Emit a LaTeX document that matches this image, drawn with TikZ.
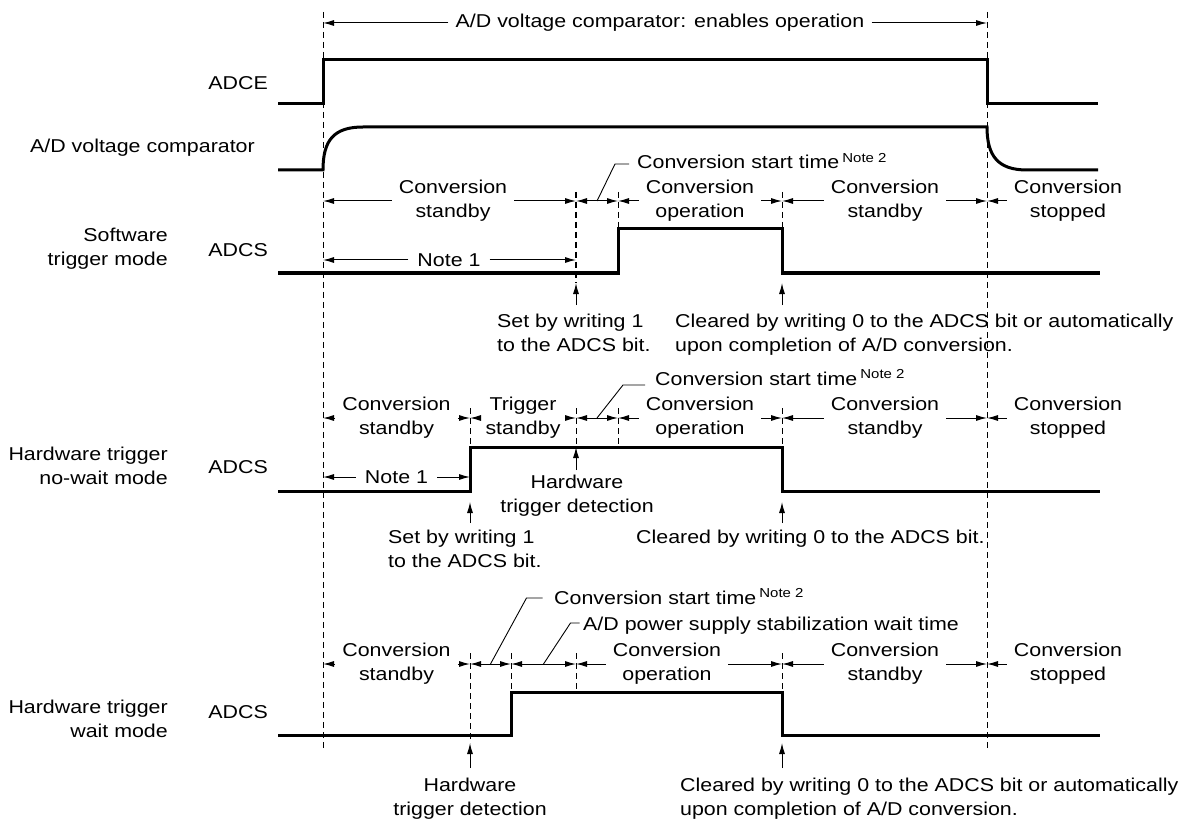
\documentclass[tikz,border=0pt]{standalone}
\usepackage{fontspec}
\setmainfont[FakeStretch=1.15]{Liberation Sans}
\usepackage{tikz}
\usetikzlibrary{positioning,arrows.meta,calc}
\definecolor{ink}{HTML}{000000}
\tikzset{
  wave/.style={draw=ink, line width=3pt, line join=miter},
  guide/.style={draw=ink, line width=0.9pt, dash pattern=on 6pt off 4pt},
  ar/.style={-{Latex[length=11pt,width=6pt]}, line width=1pt, color=ink},
  dar/.style={{Latex[length=11pt,width=6pt]}-{Latex[length=11pt,width=6pt]},
              line width=1pt, color=ink},
  lead/.style={line width=0.9pt, color=ink},
  phase/.style={align=center, inner xsep=7pt, inner ysep=0pt},
  lbl/.style={inner sep=0pt},
}
\newcommand{\notetwo}{\,\textsuperscript{Note 2}}

\begin{document}
\begin{tikzpicture}[x=1pt, y=-1pt, font=\fontsize{18.6pt}{24pt}\selectfont]
\useasboundingbox (0,0) rectangle (1181,821);

% time marks
\coordinate (on) at (323,12);
\coordinate (off) at (987,12);
\coordinate (ta) at (470,0);
\coordinate (tb) at (511,0);
\coordinate (tc) at (576,0);
\coordinate (td) at (618,0);
\coordinate (te) at (782,0);

\draw[guide] (on) -- ++(0,736);
\draw[guide] (off) -- ++(0,736);
\draw[guide, line width=1.6pt] (576,192) -- (576,283);
\foreach \x/\a/\b in {618/192/229, 782/192/229,
                      470/408/447, 576/408/447, 618/408/447, 782/408/447,
                      470/653/743, 511/653/692, 576/653/692, 782/653/692}
  \draw[guide] (\x,\a) -- (\x,\b);

% enable span
\node[phase] (en) at (660,23) {A/D voltage comparator: enables operation};
\draw[ar] (en) -- (on |- en);
\draw[ar] (en) -- (off |- en);

% waveforms
\draw[wave] (278,104) -- (323,104) -- (323,60) -- (987,60) -- (987,104) -- (1098,104);
\draw[wave] (278,170) -- (323,170) .. controls (323,140) and (334,127) .. (363,127)
  -- (987,127) .. controls (987,156) and (998,170) .. (1027,170) -- (1098,170);
\draw[wave] (278,273) -- (618,273) -- (618,229) -- (782,229) -- (782,273) -- (1100,273);
\draw[wave] (278,491) -- (470,491) -- (470,447) -- (782,447) -- (782,491) -- (1100,491);
\draw[wave] (278,735) -- (511,735) -- (511,692) -- (782,692) -- (782,735) -- (1100,735);

% row names
\node[lbl, anchor=east] (adce) at (268,83) {ADCE};
\node[lbl, anchor=east] (cmp) at (255,148) {A/D voltage comparator};
\node[lbl, anchor=east, align=right] (swm) at (168,249) {Software\\trigger mode};
\node[lbl, anchor=east] (adcs1) at (268,250) {ADCS};
\node[lbl, anchor=east, align=right] (nwm) at (168,466) {Hardware trigger\\no-wait mode};
\node[lbl, anchor=east] (adcs2) at (268,467) {ADCS};
\node[lbl, anchor=east, align=right] (wm) at (168,719) {Hardware trigger\\wait mode};
\node[lbl, anchor=east] (adcs3) at (268,712) {ADCS};

% software trigger mode
\node[phase] (s1) at (453,201) {Conversion\\standby};
\draw[ar] (s1) -- (on |- s1);
\draw[ar] (s1) -- (tc |- s1);
\draw[dar] (tc |- s1) -- (td |- s1);
\coordinate (m1) at ($(tc |- s1)!0.5!(td |- s1)$);
\node[lbl, anchor=base west] (st1) at (637,169) {Conversion start time\notetwo};
\draw[lead] (m1) -- ++(18,-37) -- ++(14,0);
\node[phase] (s2) at (700,201) {Conversion\\operation};
\draw[ar] (s2) -- (td |- s2);
\draw[ar] (s2) -- (te |- s2);
\node[phase] (s3) at (885,201) {Conversion\\standby};
\draw[ar] (s3) -- (te |- s3);
\draw[ar] (s3) -- (off |- s3);
\node[phase] (s4) at (1068,201) {Conversion\\stopped};
\draw[ar] (s4) -- (off |- s4);
\node[phase, inner xsep=9pt] (n1) at (449,260) {Note 1};
\draw[ar] (n1) -- (on |- n1);
\draw[ar] (n1) -- (tc |- n1);
\node[lbl, anchor=north west, align=left] (set1) at (497,314) {Set by writing 1\\to the ADCS bit.};
\draw[ar] ($(tc |- set1.north)+(0,-9)$) -- +(0,-22);
\node[lbl, anchor=north west, align=left] (clr1) at (675,314)
  {Cleared by writing 0 to the ADCS bit or automatically\\upon completion of A/D conversion.};
\draw[ar] ($(te |- clr1.north)+(0,-9)$) -- +(0,-22);

% hardware trigger no-wait mode
\node[phase] (q1) at (396.5,418) {Conversion\\standby};
\draw[ar] (q1) -- (on |- q1);
\draw[ar] (q1) -- (ta |- q1);
\node[phase] (q2) at (523,418) {Trigger\\standby};
\draw[ar] (q2) -- (ta |- q2);
\draw[ar] (q2) -- (tc |- q2);
\draw[dar] (tc |- q2) -- (td |- q2);
\coordinate (m2) at ($(tc |- q2)!0.5!(td |- q2)$);
\node[lbl, anchor=base west] (st2) at (655,385) {Conversion start time\notetwo};
\draw[lead] (m2) -- ++(26,-33) -- ++(22,0);
\node[phase] (q3) at (700,418) {Conversion\\operation};
\draw[ar] (q3) -- (td |- q3);
\draw[ar] (q3) -- (te |- q3);
\node[phase] (q4) at (885,418) {Conversion\\standby};
\draw[ar] (q4) -- (te |- q4);
\draw[ar] (q4) -- (off |- q4);
\node[phase] (q5) at (1068,418) {Conversion\\stopped};
\draw[ar] (q5) -- (off |- q5);
\node[phase, inner xsep=9pt] (n2) at (396.5,477) {Note 1};
\draw[ar] (n2) -- (on |- n2);
\draw[ar] (n2) -- (ta |- n2);
\node[lbl, anchor=north, align=center] (det1) at (577,475) {Hardware\\trigger detection};
\draw[ar] ($(tc |- det1.north)+(0,-5)$) -- +(0,-23);
\node[lbl, anchor=north west, align=left] (set2) at (388,530) {Set by writing 1\\to the ADCS bit.};
\draw[ar] ($(ta |- set2.north)+(0,-7)$) -- +(0,-21);
\node[lbl, anchor=north west] (clr2) at (636,530) {Cleared by writing 0 to the ADCS bit.};
\draw[ar] ($(te |- clr2.north)+(0,-7)$) -- +(0,-21);

% hardware trigger wait mode
\node[phase] (w1) at (396.5,664) {Conversion\\standby};
\draw[ar] (w1) -- (on |- w1);
\draw[ar] (w1) -- (ta |- w1);
\draw[dar] (ta |- w1) -- (tb |- w1);
\coordinate (m3) at ($(ta |- w1)!0.5!(tb |- w1)$);
\node[lbl, anchor=base west] (st3) at (554,604) {Conversion start time\notetwo};
\draw[lead] (m3) -- ++(36,-66) -- ++(16,0);
\draw[dar] (tb |- w1) -- (tc |- w1);
\coordinate (m4) at ($(tb |- w1)!0.5!(tc |- w1)$);
\node[lbl, anchor=base west] (pw) at (583,630) {A/D power supply stabilization wait time};
\draw[lead] (m4) -- ++(27,-41) -- ++(9,0);
\node[phase] (w2) at (667,664) {Conversion\\operation};
\draw[ar] (w2) -- (tc |- w2);
\draw[ar] (w2) -- (te |- w2);
\node[phase] (w3) at (885,664) {Conversion\\standby};
\draw[ar] (w3) -- (te |- w3);
\draw[ar] (w3) -- (off |- w3);
\node[phase] (w4) at (1068,664) {Conversion\\stopped};
\draw[ar] (w4) -- (off |- w4);
\node[lbl, anchor=north, align=center] (det2) at (470,778) {Hardware\\trigger detection};
\draw[ar] ($(ta |- det2.north)+(0,-10)$) -- +(0,-25);
\node[lbl, anchor=north west, align=left] (clr3) at (680,778)
  {Cleared by writing 0 to the ADCS bit or automatically\\upon completion of A/D conversion.};
\draw[ar] ($(te |- clr3.north)+(0,-10)$) -- +(0,-25);
\end{tikzpicture}
\end{document}
